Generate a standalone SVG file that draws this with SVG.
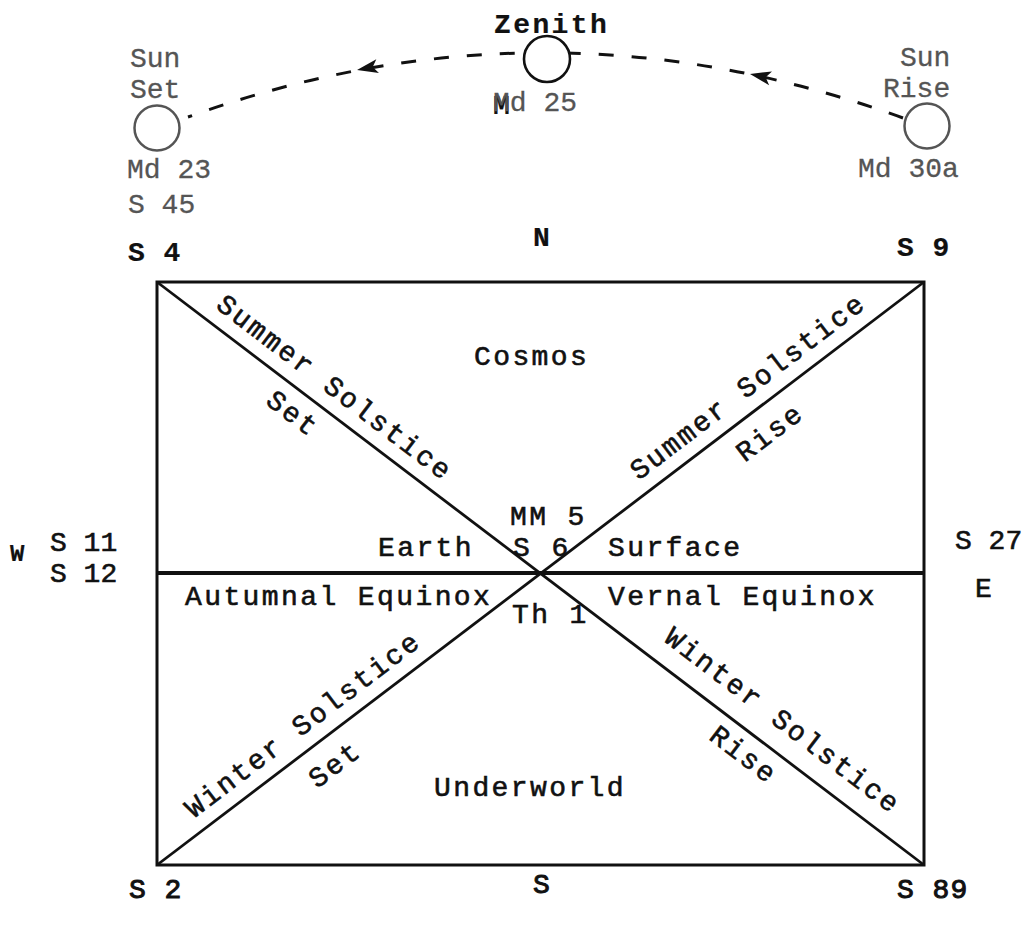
<svg xmlns="http://www.w3.org/2000/svg" xmlns:xlink="http://www.w3.org/1999/xlink" width="1031" height="925" viewBox="0 0 1031 925">
<style>
  text { font-family: "Liberation Mono", "DejaVu Sans Mono", monospace; font-size: 28px; fill: #111; stroke: #111; stroke-width: 0.6px; }
  .t { letter-spacing: 2.4px; }
  .b { font-weight: bold; letter-spacing: 1px; stroke-width: 0.2px; }
  .m { stroke-width: 1px; letter-spacing: 1px; }
  .g { fill: #555; stroke: #555; stroke-width: 0.3px; }
  .sun { fill: #fff; stroke: #555; stroke-width: 2.5; }
  .zen { fill: #fff; stroke: #111; stroke-width: 2.6; }
  .frame { fill: none; stroke: #111; stroke-width: 3; }
  .diag { stroke: #111; stroke-width: 2.8; }
  .horiz { stroke: #111; stroke-width: 4; }
  .path { fill: none; stroke: #111; stroke-width: 3; stroke-dasharray: 15 18; }
  .rot { text-anchor: middle; letter-spacing: 2.4px; }
</style>
<defs>
  <path id="ah" d="M0,0 L21,-7 L16,0 L21,7 Z" fill="#111"/>
</defs>
<rect width="1031" height="925" fill="#fff"/>

<g id="connectors">
  <path class="path" d="M903,118 Q545,-12 188,117"/>
  <use xlink:href="#ah" href="#ah" transform="translate(357,70) rotate(-10.8)"/>
  <use xlink:href="#ah" href="#ah" transform="translate(750,74) rotate(11.8)"/>
</g>

<g id="sunset">
  <text class="g" x="130" y="67">Sun</text>
  <text class="g" x="130" y="98">Set</text>
  <circle class="sun" cx="157" cy="128" r="22.5"/>
  <text class="g" x="127" y="178">Md 23</text>
  <text class="g" x="128" y="213">S 45</text>
</g>

<g id="zenith">
  <text class="b" x="494" y="33" style="letter-spacing:2.4px">Zenith</text>
  <circle class="zen" cx="547" cy="59" r="23"/>
  <text x="493" y="114"><tspan class="b">M</tspan><tspan class="g" dx="-17.8" dy="-3">Md 25</tspan></text>
</g>

<g id="sunrise">
  <text class="g" x="900" y="66">Sun</text>
  <text class="g" x="883" y="97">Rise</text>
  <circle class="sun" cx="927" cy="126" r="22.5"/>
  <text class="g" x="858" y="177">Md 30a</text>
</g>

<g id="directions">
  <text class="b" x="533" y="246">N</text>
  <text class="b" x="128" y="261">S 4</text>
  <text class="b" x="897" y="256">S 9</text>
  <text class="b" x="10" y="561" style="font-size:24px">W</text>
  <text x="50" y="551">S 11</text>
  <text x="50" y="582">S 12</text>
  <text x="955" y="549">S 27</text>
  <text x="975" y="597">E</text>
  <text class="m" x="129" y="898">S 2</text>
  <text class="m" x="533" y="893">S</text>
  <text class="m" x="897" y="898">S 89</text>
</g>

<g id="frame">
  <rect class="frame" x="157" y="282" width="767" height="583"/>
  <line class="horiz" x1="157" y1="573" x2="924" y2="573"/>
  <line class="diag" x1="157" y1="282" x2="924" y2="865"/>
  <line class="diag" x1="924" y1="282" x2="157" y2="865"/>
</g>

<g id="regions">
  <text class="t" x="474" y="365">Cosmos</text>
  <text class="t" x="434" y="796">Underworld</text>
  <text class="t" x="510" y="525">MM 5</text>
  <text class="t" x="378" y="556">Earth</text>
  <text class="t" x="513" y="556">S 6</text>
  <text class="t" x="608" y="556">Surface</text>
  <text class="t" x="185" y="605">Autumnal Equinox</text>
  <text class="t" x="608" y="605">Vernal Equinox</text>
  <text class="t" x="512" y="623">Th 1</text>
</g>

<g id="summer-set">
  <text class="rot" transform="translate(334,387) rotate(37.28)" x="1" y="9">Summer Solstice</text>
  <text class="rot" transform="translate(292,413) rotate(37.28)" x="1" y="9">Set</text>
</g>
<g id="summer-rise">
  <text class="rot" transform="translate(747,387) rotate(-37.28)" x="1" y="9">Summer Solstice</text>
  <text class="rot" transform="translate(769,433) rotate(-37.28)" x="1" y="9">Rise</text>
</g>
<g id="winter-set">
  <text class="rot" transform="translate(302,725) rotate(-37.28)" x="1" y="9">Winter Solstice</text>
  <text class="rot" transform="translate(334,765) rotate(-37.28)" x="1" y="9">Set</text>
</g>
<g id="winter-rise">
  <text class="rot" transform="translate(782,720) rotate(37.28)" x="1" y="9">Winter Solstice</text>
  <text class="rot" transform="translate(743,754) rotate(37.28)" x="1" y="9">Rise</text>
</g>
</svg>
